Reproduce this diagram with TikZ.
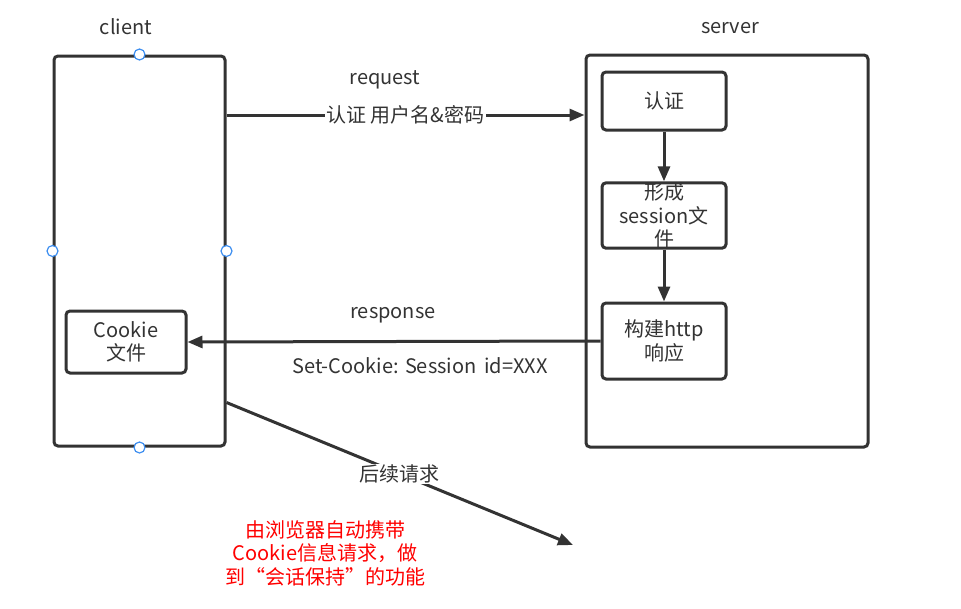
\documentclass[tikz,border=0pt]{standalone}
\usepackage{fontspec}
\setmainfont{Noto Sans CJK SC}
\usepackage{xcolor}
\usetikzlibrary{arrows.meta, calc}
\definecolor{linegray}{HTML}{333333}
\definecolor{handleblue}{HTML}{3D8EF0}
\tikzset{>={Triangle[length=15pt,width=12pt]}}
\def\rescale{1pt}

\begin{document}
\begin{tikzpicture}[x=\rescale, y=-\rescale, color=linegray, line width=3pt,
    font=\fontsize{20}{23.5}\selectfont,
    frame/.style={draw, rounded corners=4pt, inner sep=0pt},
    stepbox/.style={frame, minimum width=124pt, align=center},
    handle/.style={circle, draw=handleblue, fill=white, line width=1.2pt, minimum size=11pt, inner sep=0pt},
    tag/.style={fill=white, inner sep=1pt}]

    \useasboundingbox (0, 0) rectangle (961, 608);

    % client side
    \node[frame, minimum width=171pt, minimum height=390pt] (client) at (139.5, 251) {};
    \node (clientlbl) at (126, 27) {client};
    \node[frame, minimum width=120pt, minimum height=62pt, align=center] (cookie) at (126, 342) {Cookie\\文件};

    % server side
    \node[frame, minimum width=282pt, minimum height=392pt] (server) at (727, 251) {};
    \node (serverlbl) at (730, 28) {server};
    \node[stepbox, minimum height=58pt] (auth) at (664, 101) {认证};
    \node[stepbox, minimum height=65pt] (sess) at (664, 215.5) {形成\\session文\\件};
    \node[stepbox, minimum height=76pt] (resp) at (664, 341) {构建http\\响应};

    \draw[->] (auth) -- (sess);
    \draw[->] (sess) -- (resp);

    % request
    \coordinate (reqY) at (400, 115);
    \node (reqlbl) at (385, 80) {request};
    \draw[->] (client.east |- reqY) -- node[tag] {认证 用户名\&密码} (server.west |- reqY);

    % response
    \node (resplbl) at (393, 315) {response};
    \node (setlbl) at (420, 366) {Set-Cookie: Session\, id=XXX};
    \draw[->] (resp.west) -- (cookie.east);

    % later requests
    \coordinate (nextA) at ($(client.south east) + (0, -45)$);
    \coordinate (nextB) at (573, 545);
    \draw[->] (nextA) -- node[tag] {后续请求} (nextB);
    \node[text=red, align=center] (note) at (325, 553) {由浏览器自动携带\\Cookie信息请求，做\\到“会话保持”的功能};

    % handles
    \foreach \a in {north, west, east, south} {
      \node[handle] at (client.\a) {};
    }

\end{tikzpicture}
\end{document}
